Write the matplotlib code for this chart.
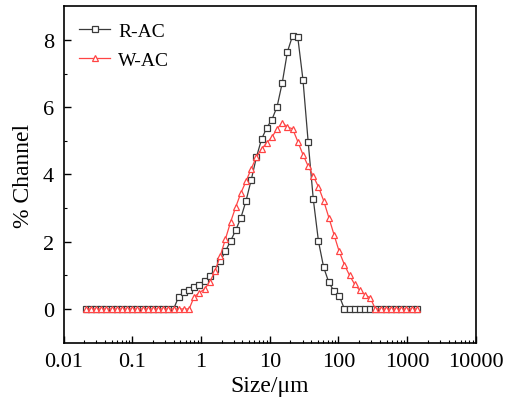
import matplotlib.pyplot as plt
from matplotlib.ticker import LogLocator, FixedLocator, FixedFormatter, NullFormatter

plt.rcParams['font.family'] = ['Liberation Serif', 'DejaVu Serif']

# Channel sizes (um)
size = [0.021, 0.02497, 0.0297, 0.03532, 0.042, 0.04995, 0.0594, 0.07064, 0.084, 0.0999,
        0.1188, 0.1413, 0.168, 0.1998, 0.2376, 0.2826, 0.336, 0.3996, 0.4752, 0.5651,
        0.672, 0.7991, 0.9504, 1.130, 1.344, 1.598, 1.901, 2.260, 2.688, 3.197,
        3.802, 4.521, 5.376, 6.393, 7.603, 9.042, 10.75, 12.79, 15.21, 18.08,
        21.50, 25.57, 30.41, 36.17, 43.01, 51.15, 60.83, 72.34, 86.02, 102.3,
        121.7, 144.7, 172.1, 204.6, 243.3, 289.4, 344.1, 409.3, 486.7, 578.8,
        688.3, 818.6, 973.4, 1158, 1377]

# % Channel
r_ac = [0] * 18 + [0.37, 0.50, 0.57, 0.64, 0.70, 0.84, 0.98, 1.18, 1.42, 1.71,
                   2.02, 2.34, 2.71, 3.22, 3.84, 4.51, 5.05, 5.39, 5.63, 6.02,
                   6.73, 7.65, 8.13, 8.08, 6.82, 4.98, 3.26, 2.01, 1.24, 0.79,
                   0.53, 0.40] + [0] * 15
w_ac = [0] * 21 + [0.37, 0.48, 0.60, 0.80, 1.13, 1.57, 2.07, 2.58, 3.03, 3.45,
                   3.80, 4.17, 4.52, 4.76, 4.94, 5.11, 5.36, 5.54, 5.41, 5.36,
                   4.98, 4.59, 4.25, 3.95, 3.63, 3.22, 2.72, 2.21, 1.71, 1.32,
                   1.00, 0.73, 0.55, 0.42, 0.33] + [0] * 9

xticks = [0.01, 0.1, 1, 10, 100, 1000, 10000]
xlabels = ['0.01', '0.1', '1', '10', '100', '1000', '10000']
yticks = [0, 2, 4, 6, 8]

fig = plt.figure(figsize=(5.08, 4.10), dpi=100)
ax = fig.add_axes([0.125, 0.162, 0.812, 0.820])

ax.plot(size, r_ac, color='#3a3a3a', lw=0.9, marker='s', ms=4, mfc='white',
        mec='#3a3a3a', mew=0.9, label='R-AC')
ax.plot(size, w_ac, color='#ff4444', lw=0.9, marker='^', ms=5, mfc='white',
        mec='#ff4444', mew=0.9, label='W-AC')

ax.set_xscale('log')
ax.set_xlim(0.01, 10000)
ax.set_ylim(-1, 9)
ax.xaxis.set_major_locator(FixedLocator(xticks))
ax.xaxis.set_major_formatter(FixedFormatter(xlabels))
ax.xaxis.set_minor_locator(LogLocator(base=10, subs=range(2, 10), numticks=20))
ax.xaxis.set_minor_formatter(NullFormatter())
ax.set_yticks(yticks)
ax.set_yticks([1, 3, 5, 7], minor=True)

ax.tick_params(which='major', direction='in', length=5, width=1, labelsize=16,
               top=False, right=False, pad=7)
ax.tick_params(which='minor', direction='in', length=2.5, width=0.8,
               top=False, right=False)
for s in ax.spines.values():
    s.set_linewidth(1.2)

ax.set_xlabel('Size/μm', fontsize=17, labelpad=3)
ax.set_ylabel('% Channel', fontsize=17, labelpad=6)

ax.legend(loc='upper left', frameon=False, fontsize=14, handlelength=1.6,
          labelspacing=0.6, borderaxespad=0.4, handletextpad=0.4)

fig.savefig('out.png', dpi=100)
